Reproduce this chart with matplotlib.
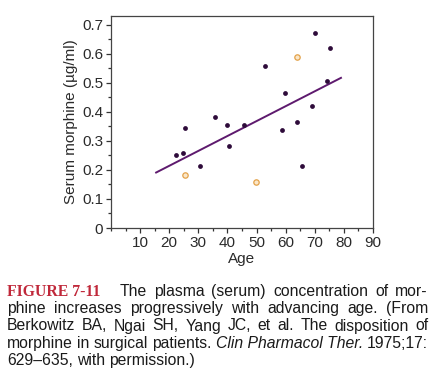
import matplotlib
matplotlib.use("Agg")
import matplotlib.pyplot as plt
from matplotlib.ticker import MultipleLocator

# ---- data ----
age_filled = [22.4, 24.7, 25.5, 30.7, 35.8, 39.8, 40.4, 45.8, 52.9, 58.9,
              59.7, 63.9, 65.7, 68.9, 70.1, 74.2, 75.2]
morph_filled = [0.253, 0.259, 0.343, 0.212, 0.381, 0.353, 0.283, 0.353, 0.558, 0.339,
                0.464, 0.365, 0.212, 0.420, 0.670, 0.507, 0.619]
age_open = [25.3, 49.8, 63.9]
morph_open = [0.181, 0.160, 0.588]
fit_age = [15.5, 79.0]
fit_morph = [0.191, 0.517]
x_ticks = [10, 20, 30, 40, 50, 60, 70, 80, 90]
y_ticks = [0, 0.1, 0.2, 0.3, 0.4, 0.5, 0.6, 0.7]
y_tick_labels = ["0", "0.1", "0.2", "0.3", "0.4", "0.5", "0.6", "0.7"]

W, H = 437, 383
fig = plt.figure(figsize=(W / 100, H / 100), dpi=100)
fig.patch.set_facecolor("white")
FONT = "Liberation Sans"
TXT = "#2a2a2a"

ax = fig.add_axes([111 / W, 1 - 228 / H, (373 - 111) / W, (228 - 16) / H])
ax.set_xlim(0, 90)
ax.set_ylim(0, 0.73)
ax.plot(fit_age, fit_morph, color="#5e1a6e", lw=1.4, zorder=2)
ax.scatter(age_filled, morph_filled, s=12, color="#2e0b3a", zorder=3, linewidths=0)
ax.scatter(age_open, morph_open, s=15, facecolor="#fbe7c8", edgecolor="#e3a24a",
           linewidths=0.9, zorder=3)

ax.set_xticks(x_ticks)
ax.set_xticklabels([str(v) for v in x_ticks])
ax.set_yticks(y_ticks)
ax.set_yticklabels(y_tick_labels)
ax.xaxis.set_minor_locator(MultipleLocator(5))
ax.yaxis.set_minor_locator(MultipleLocator(0.05))
ax.tick_params(which="major", direction="out", length=3.5, width=0.9, color="#333333",
               labelsize=11, labelcolor=TXT, pad=2)
ax.tick_params(which="minor", direction="out", length=2, width=0.9, color="#333333")
for lab in ax.get_xticklabels() + ax.get_yticklabels():
    lab.set_fontfamily(FONT)
for sp in ax.spines.values():
    sp.set_color("#444444")
    sp.set_linewidth(0.9)
ax.set_xlabel("Age", fontsize=11, family=FONT, color=TXT, labelpad=2)
ax.set_ylabel("Serum morphine (\u00b5g/ml)", fontsize=11, family=FONT, color=TXT, labelpad=3)

# ---- caption (justified) ----
fig.canvas.draw()
renderer = fig.canvas.get_renderer()

CAP = 11.3
lines = [
    [("FIGURE 7-11", dict(family="Liberation Serif", weight="bold", color="#c0283a")),
     ("The", {}), ("plasma", {}), ("(serum)", {}), ("concentration", {}), ("of", {}), ("mor-", {})],
    [("phine", {}), ("increases", {}), ("progressively", {}), ("with", {}), ("advancing", {}),
     ("age.", {}), ("(From", {})],
    [("Berkowitz", {}), ("BA,", {}), ("Ngai", {}), ("SH,", {}), ("Yang", {}), ("JC,", {}),
     ("et", {}), ("al.", {}), ("The", {}), ("disposition", {}), ("of", {})],
    [("morphine", {}), ("in", {}), ("surgical", {}), ("patients.", {}),
     ("Clin Pharmacol Ther.", dict(style="italic")), ("1975;17:", {})],
    [("629\u2013635,", {}), ("with", {}), ("permission.)", {})],
]
line_y = [296, 313, 330.5, 348, 365]
x0, x1 = 7, 428
for i, (words, yy) in enumerate(zip(lines, line_y)):
    texts = []
    for w, st in words:
        kw = dict(family=FONT, color="#1a1a1a", fontsize=CAP)
        kw.update(st)
        t = fig.text(0, 1 - yy / H, w, va="baseline", ha="left", **kw)
        texts.append(t)
    widths = [t.get_window_extent(renderer).width for t in texts]
    extra = 12 if i == 0 else 0
    total = sum(widths) + extra
    n = len(texts)
    if i < len(lines) - 1:
        gap = (x1 - x0 - total) / (n - 1)
    else:
        gap = 4.0
    x = x0
    for j, (t, w) in enumerate(zip(texts, widths)):
        t.set_x(x / W)
        x += w + gap + (extra if j == 0 else 0)

fig.savefig("out.png", dpi=100, facecolor="white")
